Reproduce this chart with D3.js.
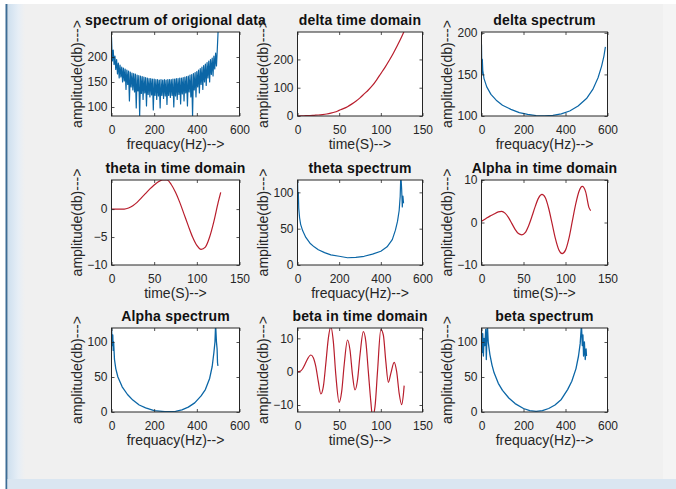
<!DOCTYPE html>
<html>
<head>
<meta charset="utf-8">
<script src="https://cdn.jsdelivr.net/npm/d3@7"></script>
<style>
  html, body { margin: 0; padding: 0; background: #ffffff; }
  svg { display: block; }
  text { font-family: "Liberation Sans", Arial, Helvetica, sans-serif; }
</style>
</head>
<body>
<script>
// ---------------- DATA ----------------
const origFreqStep = 4; // Hz between samples of the original spectrum
const origAmp = [240,192,214,185,202,175,195,166,188,158,
  184,160,180,150,178,152,176,135,174,145,
  172,112,170,140,168,134,167,130,166,98,
  164,132,163,82,162,127,161,115,160,128,
  159,102,158,125,157,120,157,124,156,94,
  156,123,155,115,155,122,154,98,155,123,
  154,117,155,122,154,105,155,123,155,119,
  155,123,156,100,156,122,157,115,157,125,
  158,106,158,126,159,112,160,128,161,102,
  162,130,164,120,165,82,167,134,169,120,
  171,140,174,128,177,145,180,135,183,150,
  186,143,189,158,192,150,195,165,198,162,
  202,176,208,182,216,255];

const deltaTime = [[0,0],[5,0.5],[10,1],[15,1.5],[20,2.5],[25,3.5],[30,5],[35,7],[40,10],[45,14],[50,20],
  [55,26],[60,33],[65,42],[70,52],[75,64],[80,78],[85,92],[90,108],[95,128],[100,150],[105,172],
  [110,196],[115,222],[120,250],[125,280],[128,300]];

const deltaSpec = [[0,186],[2,150],[4,168],[6,155],[12,145],[25,135],[45,126],[70,119],[100,113],[140,108],
  [180,104],[220,102],[260,100.5],[300,100.2],[340,100.8],[380,102.5],[420,106],[460,112],[500,121],
  [530,132],[555,146],[572,160],[583,172],[590,183]];

const thetaTime = [[0,0],[5,0],[10,0],[15,0],[20,0.2],[25,0.6],[30,1.2],[35,2.0],[40,2.8],[45,3.6],[50,4.3],
  [55,4.9],[60,5.2],[65,5.2],[70,4.4],[75,3.0],[80,1.2],[85,-0.9],[90,-3.0],[95,-5.0],[100,-6.5],
  [105,-7.2],[110,-6.8],[115,-5.0],[120,-2.2],[125,1.2],[128,3.0]];

const thetaSpec = [[0,125],[2,90],[4,100],[6,78],[10,65],[15,56],[25,47],[40,38],[60,30],[80,25],[100,21],
  [130,17],[160,14],[200,12],[240,10],[280,10.5],[320,12],[360,15],[400,19],[430,25],[455,35],[470,48],
  [480,60],[488,75],[493,95],[496,125],[500,104],[503,80],[506,95],[509,85]];

const alphaTime = [[0,0.3],[5,0.9],[10,1.5],[15,2.0],[20,2.5],[24,2.6],[28,2.2],[32,1.2],[36,-0.2],[40,-1.6],
  [44,-2.6],[48,-2.9],[52,-2.4],[56,-0.8],[60,1.4],[64,3.8],[68,5.8],[72,6.6],[76,5.8],[80,3.3],[84,-0.2],
  [88,-3.8],[92,-6.4],[96,-7.3],[100,-6.5],[104,-3.8],[108,0.2],[112,4.2],[116,7.3],[120,8.5],[124,7.2],
  [128,3.5],[130,2.8]];

const alphaSpec = [[0,125],[3,95],[6,110],[8,88],[10,100],[14,75],[20,62],[30,50],[50,36],[75,25],[100,17],
  [130,10],[160,6],[200,2],[250,0.5],[300,1],[330,3],[360,7],[390,13],[420,23],[440,32],[460,48],[472,65],
  [480,85],[485,100],[488,125],[492,100],[495,90],[497,70],[499,66]];

const betaTime = [[0,0],[3,0.1],[6,0.8],[9,2.2],[12,3.8],[16,5.0],[19,4.2],[22,1.5],[25,-3.0],[28,-6.7],
  [31,-4.5],[34,2.5],[37,10.0],[40,13.5],[43,9.0],[46,-1.0],[50,-9.2],[53,-6.0],[56,2.0],[60,9.5],
  [63,6.5],[66,-1.0],[69,-5.5],[72,-2.5],[75,5.0],[79,12.0],[82,9.0],[85,0.0],[88,-9.0],[90,-13.5],
  [93,-10.5],[96,0.0],[100,12.7],[103,11.0],[106,3.0],[109,-3.2],[112,-0.5],[116,2.8],[119,0.0],
  [122,-6.5],[125,-9.9],[127,-7.0],[128,-4.2]];

const betaSpec = [[0,118],[3,85],[6,112],[9,80],[12,105],[16,95],[20,118],[23,75],[26,110],[28,125],[32,100],
  [40,82],[50,67],[60,56],[80,41],[100,31],[130,20],[160,12],[200,5],[230,2],[260,1],[290,2],[320,5],
  [350,10],[380,18],[410,32],[430,44],[450,62],[462,80],[470,98],[476,125],[480,95],[483,110],[486,80],
  [490,100],[494,75],[498,90],[500,80]];

const titles = ["spectrum of origional data","delta time domain","delta spectrum",
  "theta in time domain","theta spectrum","Alpha in time domain",
  "Alpha spectrum","beta in time domain","beta spectrum"];
const freqLabel = "frequacy(Hz)-->";
const timeLabel = "time(S)-->";
const ampLabel = "amplitude(db)--->";
const freqTicks = [0,200,400,600];
const timeTicks = [0,50,100,150];
const yTickSets = [[100,150,200],[0,100,200],[100,150,200],
  [-10,-5,0],[0,50,100],[-10,0,10],
  [0,50,100],[-10,0,10],[0,50,100]];
const yDomains = [[82,250],[0,297],[100,201],
  [-10,5.2],[0,117],[-10,10],
  [0,120],[-12.1,13.1],[0,120]];

// ---------------- LAYOUT ----------------
const W = 676, H = 489;
const colLeft = [111.5, 297.5, 481.5];
const colWidth = [128, 125, 126];
const rowTop = [32, 180, 328];
const rowHeight = [84, 85, 84];
const BLUE = "#0b66a6", RED = "#b81d2c";

const svg = d3.select("body").append("svg").attr("width", W).attr("height", H);

// window chrome
svg.append("rect").attr("x",0).attr("y",0).attr("width",W).attr("height",H).attr("fill","#ffffff");
svg.append("rect").attr("x",7).attr("y",4).attr("width",W-7).attr("height",H-4).attr("fill","#f0f0f0");
const grad = svg.append("defs").append("linearGradient").attr("id","lstrip").attr("x1",0).attr("x2",1).attr("y1",0).attr("y2",0);
grad.append("stop").attr("offset","0%").attr("stop-color","#cfe0ef");
grad.append("stop").attr("offset","60%").attr("stop-color","#e6eef6");
grad.append("stop").attr("offset","100%").attr("stop-color","#f0f0f0");
svg.append("rect").attr("x",8).attr("y",4).attr("width",17).attr("height",H-4).attr("fill","url(#lstrip)");
svg.append("rect").attr("x",5.5).attr("y",4).attr("width",2).attr("height",H-4).attr("fill","#3c6d96");
svg.append("rect").attr("x",7.5).attr("y",479).attr("width",W-7.5).attr("height",H-479).attr("fill","#dae6f1");
svg.append("rect").attr("x",663).attr("y",4).attr("width",W-663).attr("height",475).attr("fill","#f4f4f4");

const panels = [
  {data: origAmp.map((v,i)=>[i*origFreqStep, v]), color: BLUE, x: "f", w: 1.2},
  {data: deltaTime, color: RED, x: "t", w: 1.2},
  {data: deltaSpec, color: BLUE, x: "f", w: 1.2},
  {data: thetaTime, color: RED, x: "t", w: 1.2},
  {data: thetaSpec, color: BLUE, x: "f", w: 1.2},
  {data: alphaTime, color: RED, x: "t", w: 1.2},
  {data: alphaSpec, color: BLUE, x: "f", w: 1.3},
  {data: betaTime, color: RED, x: "t", w: 1.2},
  {data: betaSpec, color: BLUE, x: "f", w: 1.3}
];

const defs = svg.append("defs");

panels.forEach((p, i) => {
  const col = i % 3, row = Math.floor(i / 3);
  const L = colLeft[col], T = rowTop[row], w = colWidth[col], h = rowHeight[row];
  const isF = p.x === "f";
  const xs = d3.scaleLinear().domain(isF ? [0,600] : [0,150]).range([0, w]);
  const ys = d3.scaleLinear().domain(yDomains[i]).range([h, 0]);
  const g = svg.append("g").attr("transform", `translate(${L},${T})`);

  g.append("rect").attr("width", w).attr("height", h).attr("fill", "#ffffff");

  defs.append("clipPath").attr("id", "clip"+i)
    .append("rect").attr("width", w).attr("height", h);

  const line = d3.line().x(d => xs(d[0])).y(d => ys(d[1]));
  if (!isF) line.curve(d3.curveMonotoneX);
  g.append("g").attr("clip-path", `url(#clip${i})`)
    .append("path").datum(p.data)
    .attr("d", line).attr("fill", "none")
    .attr("stroke", p.color).attr("stroke-width", p.w)
    .attr("stroke-linejoin", "round");

  const xt = isF ? freqTicks : timeTicks;
  const ax = g.append("g").attr("transform", `translate(0,${h})`)
    .call(d3.axisBottom(xs).tickValues(xt).tickSizeInner(-3).tickSizeOuter(0).tickPadding(9).tickFormat(d3.format("d")));
  const ay = g.append("g")
    .call(d3.axisLeft(ys).tickValues(yTickSets[i]).tickSizeInner(-3).tickSizeOuter(0).tickPadding(4).tickFormat(d3.format("d")));
  const at = g.append("g")
    .call(d3.axisTop(xs).tickValues(xt).tickSizeInner(-3).tickSizeOuter(0).tickFormat(""));
  const ar = g.append("g").attr("transform", `translate(${w},0)`)
    .call(d3.axisRight(ys).tickValues(yTickSets[i]).tickSizeInner(-3).tickSizeOuter(0).tickFormat(""));
  [ax, ay, at, ar].forEach(a => {
    a.select(".domain").remove();
    a.selectAll("line").attr("stroke", "#262626").attr("stroke-width", 0.8);
    a.selectAll("text").attr("fill", "#262626").style("font-size", "12px")
      .style("font-family", "'Liberation Sans', Arial, sans-serif");
  });

  g.append("rect").attr("width", w).attr("height", h).attr("fill", "none")
    .attr("stroke", "#262626").attr("stroke-width", 1);

  g.append("text").attr("x", w/2).attr("y", -7).attr("text-anchor", "middle")
    .style("font-size", "14px").style("font-weight", "bold").style("letter-spacing", "0.2px").attr("fill", "#111")
    .text(titles[i]);

  g.append("text").attr("x", w/2).attr("y", h + 33).attr("text-anchor", "middle")
    .style("font-size", "14px").attr("fill", "#262626")
    .text(isF ? freqLabel : timeLabel);

  g.append("text").attr("transform", `translate(-30,${h/2}) rotate(-90)`)
    .attr("text-anchor", "middle").style("font-size", "14px").attr("fill", "#262626")
    .text(ampLabel);
});
</script>
</body>
</html>
